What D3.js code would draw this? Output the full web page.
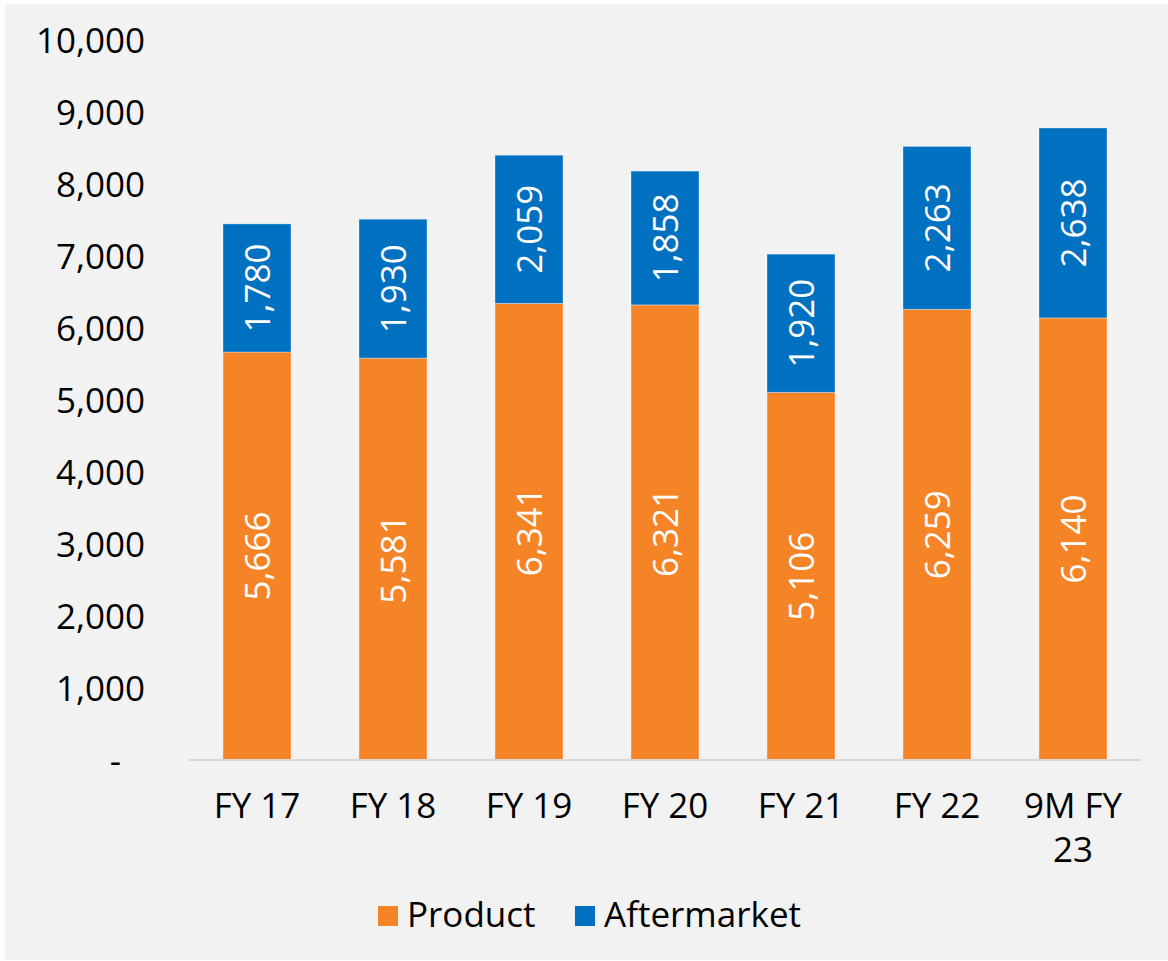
<!DOCTYPE html>
<html>
<head>
<meta charset="utf-8">
<script src="https://cdn.jsdelivr.net/npm/d3@7"></script>
<style>
  html, body { margin: 0; padding: 0; background: #ffffff; }
  svg { display: block; }
  text { font-family: "Open Sans", "Noto Sans", sans-serif; }
</style>
</head>
<body>
<svg id="chart" width="1168" height="961"></svg>
<script>
const categories = ["FY 17", "FY 18", "FY 19", "FY 20", "FY 21", "FY 22", "9M FY 23"];
const categoryLines = [["FY 17"], ["FY 18"], ["FY 19"], ["FY 20"], ["FY 21"], ["FY 22"], ["9M FY", "23"]];
const product = [5666, 5581, 6341, 6321, 5106, 6259, 6140];
const aftermarket = [1780, 1930, 2059, 1858, 1920, 2263, 2638];
const yTicks = [0, 1000, 2000, 3000, 4000, 5000, 6000, 7000, 8000, 9000, 10000];
const seriesNames = ["Product", "Aftermarket"];
const seriesColors = ["#F58426", "#0070C0"];

const svg = d3.select("#chart");
const W = 1168, H = 961;

// background panel
svg.append("rect").attr("x", 5).attr("y", 4).attr("width", W - 5).attr("height", H - 5)
  .attr("fill", "#f2f2f2");

const x = d3.scaleBand().domain(categories).range([189, 1141]).paddingInner(0.5).paddingOuter(0.25);
const y = d3.scaleLinear().domain([0, 10000]).range([760, 40]);

const fmt = d3.format(",");

// y tick labels
const yAxis = d3.axisLeft(y).tickValues(yTicks).tickSize(0).tickPadding(0)
  .tickFormat(d => d === 0 ? "-" : fmt(d));
const gy = svg.append("g").attr("transform", "translate(145,0)").call(yAxis);
gy.select(".domain").remove();
gy.selectAll("text")
  .attr("font-family", "'Open Sans', sans-serif")
  .attr("font-size", 35).attr("fill", "#000")
  .attr("dy", "0.36em")
  .attr("x", d => d === 0 ? -24 : 0);

// stacked data
const rows = categories.map((c, i) => ({ cat: c, Product: product[i], Aftermarket: aftermarket[i] }));
const stack = d3.stack().keys(seriesNames)(rows);

const groups = svg.append("g").selectAll("g").data(stack).join("g")
  .attr("fill", (d, i) => seriesColors[i]);

groups.selectAll("rect").data(d => d).join("rect")
  .attr("x", d => x(d.data.cat))
  .attr("width", x.bandwidth())
  .attr("y", d => y(d[1]))
  .attr("height", d => y(d[0]) - y(d[1]))
  .attr("stroke", "#ffffff").attr("stroke-opacity", 0.35).attr("stroke-width", 1);

// value labels (rotated)
groups.selectAll("text").data(d => d.map(v => ({ v, key: d.key }))).join("text")
  .attr("transform", d => {
    const cx = x(d.v.data.cat) + x.bandwidth() / 2;
    const cy = (y(d.v[0]) + y(d.v[1])) / 2;
    return `translate(${cx},${cy}) rotate(-90)`;
  })
  .attr("text-anchor", "middle")
  .attr("dy", "0.36em")
  .attr("fill", "#ffffff")
  .attr("font-size", 35)
  .text(d => fmt(d.v.data[d.key]));

// x axis line
const xAxis = d3.axisBottom(x).tickSize(0).tickFormat("");
const gx = svg.append("g").attr("transform", "translate(0,760)").call(xAxis);
gx.select(".domain").attr("stroke", "#d9d9d9").attr("stroke-width", 2).attr("d", "M189,0H1141");

// x category labels
const xl = svg.append("g");
categories.forEach((c, i) => {
  const t = xl.append("text")
    .attr("x", x(c) + x.bandwidth() / 2)
    .attr("y", 818)
    .attr("text-anchor", "middle")
    .attr("font-size", 35)
    .attr("fill", "#000");
  categoryLines[i].forEach((ln, j) => {
    t.append("tspan").attr("x", x(c) + x.bandwidth() / 2).attr("dy", j === 0 ? 0 : 44).text(ln);
  });
});

// legend
const legendX = [378, 575];
const lg = svg.append("g");
seriesNames.forEach((n, i) => {
  lg.append("rect").attr("x", legendX[i]).attr("y", 906).attr("width", 20).attr("height", 20)
    .attr("fill", seriesColors[i]);
  lg.append("text").attr("x", legendX[i] + 29).attr("y", 927)
    .attr("font-size", 35).attr("fill", "#000").text(n);
});
</script>
</body>
</html>
